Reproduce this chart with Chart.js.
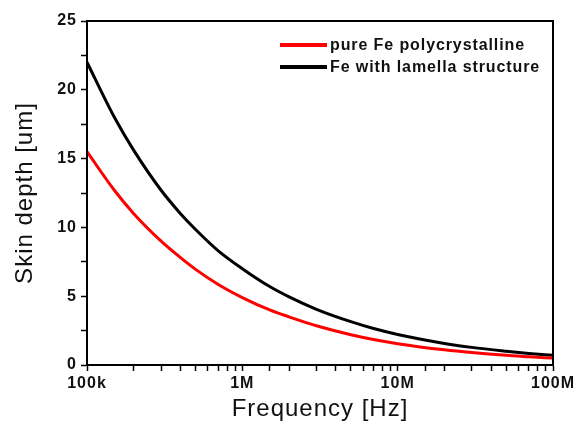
<!DOCTYPE html>
<html>
<head>
<meta charset="utf-8">
<script src="https://cdn.jsdelivr.net/npm/chart.js@4"></script>
<style>
  html, body { margin: 0; padding: 0; background: #fff; }
  #wrap { width: 579px; height: 434px; }
</style>
</head>
<body>
<div id="wrap"><canvas id="myChart" width="579" height="434"></canvas></div>
<script>
// frequency in Hz
const freq = [1e5, 1.5e5, 2e5, 3e5, 4e5, 5e5, 7e5, 1e6, 1.5e6, 2e6, 3e6, 5e6, 7e6, 1e7, 2e7, 3e7, 5e7, 7e7, 1e8]
// skin depth in um
const pureFe = [15.5, 12.7, 11.0, 9.0, 7.8, 6.95, 5.85, 4.9, 4.0, 3.5, 2.85, 2.2, 1.85, 1.55, 1.1, 0.9, 0.7, 0.6, 0.5]
const lamellaFe = [22.0, 18.0, 15.6, 12.7, 11.0, 9.85, 8.3, 7.0, 5.7, 4.95, 4.05, 3.15, 2.65, 2.22, 1.57, 1.28, 1.0, 0.84, 0.7]
const xLabels = { 1e5: '100k', 1e6: '1M', 1e7: '10M', 1e8: '100M' }

const tickFont = { family: 'Liberation Sans', size: 16, weight: 'bold' }
const titleFont = { family: 'Liberation Sans', size: 24 }

// wider letters like the original
const spacing = {
  id: 'spacing',
  beforeDraw(chart) { chart.ctx.letterSpacing = '1px' }
}

// frame and legend drawn on top of the chart area
const frame = {
  id: 'frame',
  afterDatasetsDraw(chart) {
    const { ctx, chartArea: a } = chart
    ctx.save()
    ctx.strokeStyle = '#000'
    ctx.lineWidth = 2
    ctx.strokeRect(a.left, a.top, a.right - a.left, a.bottom - a.top)
    // legend
    ctx.font = 'bold 16px "Liberation Sans"'
    ctx.letterSpacing = '0.9px'
    ctx.textBaseline = 'middle'
    chart.data.datasets.forEach((ds, i) => {
      const y = a.top + 24 + i * 22
      ctx.strokeStyle = ds.borderColor
      ctx.lineWidth = 4
      ctx.beginPath()
      ctx.moveTo(a.left + 193, y)
      ctx.lineTo(a.left + 240, y)
      ctx.stroke()
      ctx.fillStyle = '#111'
      ctx.fillText(ds.label, a.left + 243, y + 1)
    })
    ctx.restore()
  }
}

new Chart(document.getElementById('myChart'), {
  type: 'line',
  data: {
    datasets: [{
      label: 'pure Fe polycrystalline',
      data: freq.map((f, i) => ({ x: f, y: pureFe[i] })),
      borderColor: '#ff0000',
      borderWidth: 3,
      pointRadius: 0,
      cubicInterpolationMode: 'monotone',
      fill: false
    }, {
      label: 'Fe with lamella structure',
      data: freq.map((f, i) => ({ x: f, y: lamellaFe[i] })),
      borderColor: '#000000',
      borderWidth: 3,
      pointRadius: 0,
      cubicInterpolationMode: 'monotone',
      fill: false
    }]
  },
  options: {
    responsive: false,
    animation: false,
    layout: { padding: { top: 21, right: 26, left: 7, bottom: 6 } },
    plugins: { legend: { display: false }, tooltip: { enabled: false } },
    scales: {
      x: {
        type: 'logarithmic',
        min: 1e5,
        max: 1e8,
        border: { color: '#000', width: 2 },
        grid: { drawOnChartArea: false, color: '#000', tickLength: 6, tickWidth: 1.5 },
        ticks: {
          color: '#111',
          font: tickFont,
          autoSkip: false,
          maxRotation: 0,
          padding: 3,
          callback: v => xLabels[v] || ''
        },
        title: { display: true, text: 'Frequency [Hz]', font: titleFont, color: '#111', padding: { top: 4 } },
        afterFit: s => { s.height = 63 }
      },
      y: {
        min: 0,
        max: 25,
        border: { color: '#000', width: 2 },
        grid: { drawOnChartArea: false, color: '#000', tickLength: 6, tickWidth: 1.5 },
        ticks: {
          stepSize: 2.5,
          color: '#111',
          font: tickFont,
          padding: 4,
          callback: v => v % 5 === 0 ? v : ''
        },
        title: { display: true, text: 'Skin depth [um]', font: titleFont, color: '#111', padding: { bottom: 10 } },
        afterFit: s => { s.width = 80 }
      }
    }
  },
  plugins: [spacing, frame]
})
</script>
</body>
</html>
